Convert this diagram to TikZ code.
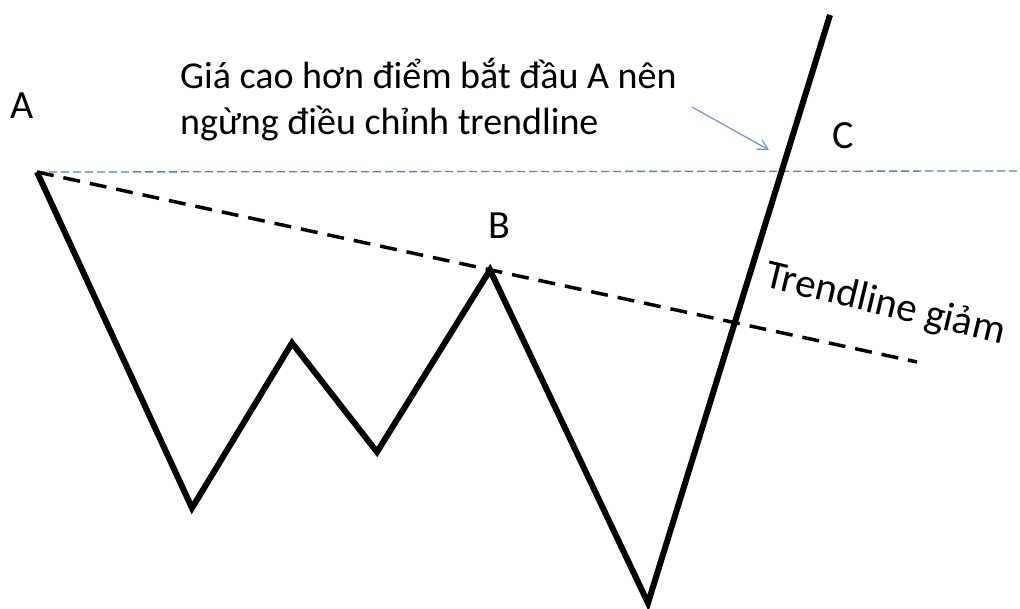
\documentclass[tikz,border=0pt]{standalone}
\usepackage{fontspec}
\setmainfont{Carlito}
\usetikzlibrary{arrows.meta}
\definecolor{officeblue}{RGB}{79,129,189}
\definecolor{arrowblue}{RGB}{110,150,205}
\begin{document}
\begin{tikzpicture}[x=1pt,y=-1pt,
  price/.style={line width=6pt,line join=miter,miter limit=20},
  trend/.style={line width=3.5pt,dash pattern=on 17pt off 10pt},
  level/.style={officeblue,line width=1.3pt,dash pattern=on 8pt off 4pt},
  lbl/.style={font=\fontsize{38}{46}\selectfont,inner sep=0pt},
  ptlbl/.style={font=\fontsize{40}{48}\selectfont,inner sep=0pt},
  callout/.style={arrowblue,line width=1.2pt,-{Straight Barb[length=10pt,width=11pt]}}]
\useasboundingbox (0,0) rectangle (1020,609);
\coordinate (pA) at (37,172);
\coordinate (p1) at (192,508);
\coordinate (p2) at (292,343);
\coordinate (p3) at (377,452);
\coordinate (pB) at (490,270);
\coordinate (p4) at (648,603);
\coordinate (pTop) at (830,15);
\coordinate (lvlEnd) at (1020,171);
\coordinate (trEnd) at (917,362);
\coordinate (arS) at (692,107);
\coordinate (arE) at (769,150);
\draw[level] (pA) -- (lvlEnd);
\draw[trend] (pA) -- (trEnd);
\draw[price] (pA) -- (p1) -- (p2) -- (p3) -- (pB) -- (p4) -- (pTop);
\node[ptlbl] (A) at (22,106) {A};
\node[ptlbl] (B) at (499,226) {B};
\node[ptlbl] (C) at (843,136) {C};
\node[lbl,anchor=base west,align=left] (note) at (180,135) {Giá cao hơn điểm bắt đầu A nên\\ngừng điều chỉnh trendline};
\draw[callout] (arS) -- (arE);
\node[font=\fontsize{41}{48}\selectfont,inner sep=0pt,rotate=-13.5] (tl) at (885,305) {Trendline giảm};
\end{tikzpicture}
\end{document}
